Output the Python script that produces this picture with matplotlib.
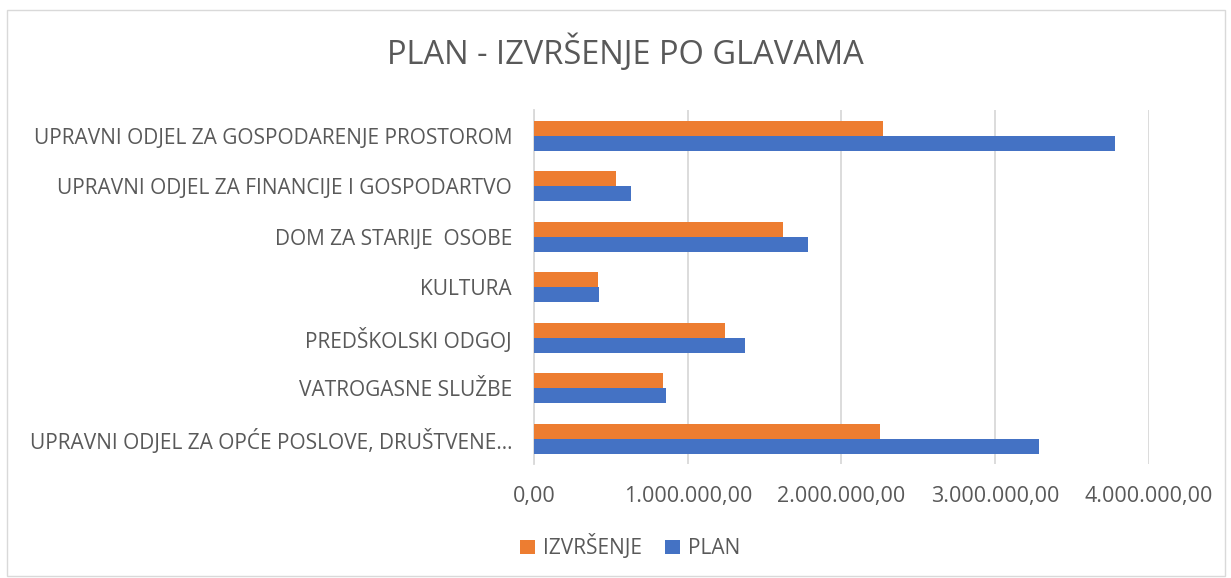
import matplotlib.pyplot as plt
import numpy as np
from matplotlib.patches import Rectangle
from matplotlib.ticker import FuncFormatter

categories = [
    'UPRAVNI ODJEL ZA OPĆE POSLOVE, DRUŠTVENE…',
    'VATROGASNE SLUŽBE',
    'PREDŠKOLSKI ODGOJ',
    'KULTURA',
    'DOM ZA STARIJE  OSOBE',
    'UPRAVNI ODJEL ZA FINANCIJE I GOSPODARTVO',
    'UPRAVNI ODJEL ZA GOSPODARENJE PROSTOROM',
]
izvrsenje = [2250000, 840000, 1240000, 415000, 1620000, 530000, 2270000]
plan = [3290000, 860000, 1370000, 420000, 1780000, 630000, 3780000]
xticks = [0, 1000000, 2000000, 3000000, 4000000]

orange = '#ED7D31'
blue = '#4472C4'
text_col = '#595959'
plt.rcParams['font.family'] = ['Open Sans', 'DejaVu Sans']

fig = plt.figure(figsize=(12.31, 5.78), dpi=100)
ax = fig.add_axes([0.434, 0.197, 0.499, 0.612])

y = np.arange(len(categories))
h = 0.3
ax.barh(y + h / 2, izvrsenje, height=h, color=orange, label='IZVRŠENJE', zorder=3)
ax.barh(y - h / 2, plan, height=h, color=blue, label='PLAN', zorder=3)

ax.set_xlim(0, 4000000)
ax.set_ylim(-0.5, len(categories) - 0.5)
ax.set_yticks(y)
ax.set_yticklabels(categories, fontsize=15, color=text_col)
ax.set_xticks(xticks)


def fmt(v, pos):
    s = f'{v:,.2f}'
    return s.replace(',', 'X').replace('.', ',').replace('X', '.')


ax.xaxis.set_major_formatter(FuncFormatter(fmt))
ax.tick_params(axis='x', labelsize=15.5, labelcolor=text_col, length=0, pad=16)
ax.tick_params(axis='y', length=0, pad=16)
ax.grid(axis='x', color='#d9d9d9', linewidth=1.3, zorder=0)
for s in ['top', 'right', 'bottom']:
    ax.spines[s].set_visible(False)
ax.spines['left'].set_color('#d9d9d9')
ax.spines['left'].set_linewidth(1.3)

fig.text(0.508, 0.908, 'PLAN - IZVRŠENJE PO GLAVAMA', ha='center', va='center',
         fontsize=23.5, color=text_col)

handles, labels = ax.get_legend_handles_labels()
fig.legend(handles, labels, loc='center', bbox_to_anchor=(0.512, 0.054), ncol=2,
           frameon=False, fontsize=15, labelcolor=text_col, handlelength=0.7,
           handleheight=0.7, columnspacing=1.1, handletextpad=0.4)

fig.add_artist(Rectangle((0.006, 0.004), 0.989, 0.978, transform=fig.transFigure,
                         fill=False, edgecolor='#d9d9d9', linewidth=1))

fig.savefig('out.png', dpi=100)
